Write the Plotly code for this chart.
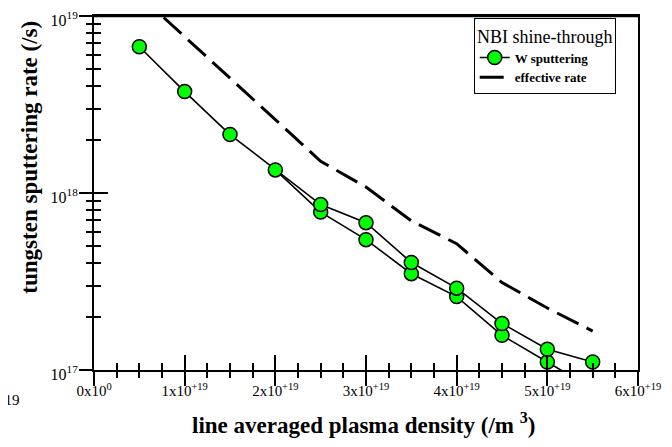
import plotly.graph_objects as go

# ---- data ----
x_upper = [0.5e19, 1.0e19, 1.5e19, 2.0e19, 2.5e19, 3.0e19, 3.5e19, 4.0e19, 4.5e19, 5.0e19, 5.5e19]
y_upper = [6.7e18, 3.74e18, 2.14e18, 1.35e18, 8.6e17, 6.8e17, 4.05e17, 2.9e17, 1.83e17, 1.31e17, 1.11e17]

x_lower = [2.0e19, 2.5e19, 3.0e19, 3.5e19, 4.0e19, 4.5e19, 5.0e19, 5.5e19]
y_lower = [1.35e18, 7.8e17, 5.45e17, 3.5e17, 2.6e17, 1.57e17, 1.11e17, 7.8e16]

x_eff = [0.5e19, 1.0e19, 1.5e19, 2.0e19, 2.5e19, 3.0e19, 3.5e19, 4.0e19, 4.5e19, 5.0e19, 5.5e19]
y_eff = [1.31e19, 7.66e18, 4.46e18, 2.6e18, 1.51e18, 1.08e18, 6.96e17, 5.17e17, 3.12e17, 2.24e17, 1.66e17]

x_major = [0, 1e19, 2e19, 3e19, 4e19, 5e19, 6e19]
x_labels = ["0x10<sup>0</sup>", "1x10<sup>+19</sup>", "2x10<sup>+19</sup>", "3x10<sup>+19</sup>",
            "4x10<sup>+19</sup>", "5x10<sup>+19</sup>", "6x10<sup>+19</sup>"]
x_minor = [k * 2.5e18 for k in range(1, 24) if k % 4 != 0]

y_major = [1e17, 1e18, 1e19]
y_labels = ["10<sup>17</sup>", "10<sup>18</sup>", "10<sup>19</sup>"]
y_minor = [m * 1e17 for m in range(2, 10)] + [m * 1e18 for m in range(2, 10)]

SERIF = "Liberation Serif"
GREEN = "#00ff00"

fig = go.Figure()

fig.add_trace(go.Scatter(x=x_lower, y=y_lower, mode="lines",
                         line=dict(color="black", width=1.6), showlegend=False, hoverinfo="skip"))
fig.add_trace(go.Scatter(x=x_lower[1:], y=y_lower[1:], mode="markers",
                         marker=dict(color=GREEN, size=14, line=dict(color="black", width=1.5)),
                         showlegend=False))
fig.add_trace(go.Scatter(x=x_upper, y=y_upper, mode="lines+markers", name="<b>W sputtering</b>",
                         line=dict(color="black", width=1.6),
                         marker=dict(color=GREEN, size=14, line=dict(color="black", width=1.5))))
fig.add_trace(go.Scatter(x=x_eff, y=y_eff, mode="lines", name="<b>effective rate</b>",
                         line=dict(color="black", width=3, dash="24px,9px")))
fig.add_trace(go.Scatter(x=[None], y=[None], xaxis="x2", yaxis="y2", showlegend=False, hoverinfo="skip"))

tickfont_x = dict(family=SERIF, size=15, color="black")
tickfont_y = dict(family=SERIF, size=16, color="black")

# page body has an 8px margin: margins are reduced to compensate
fig.update_layout(
    width=672, height=447,
    margin=dict(l=86, r=42, t=8, b=85),
    paper_bgcolor="white", plot_bgcolor="white",
    xaxis=dict(range=[0, 6e19], tickmode="array", tickvals=x_major, ticktext=x_labels,
               ticks="inside", ticklen=15, tickwidth=2, tickcolor="black",
               minor=dict(tickmode="array", tickvals=x_minor, ticks="inside", ticklen=7,
                          tickwidth=2, tickcolor="black", showgrid=False),
               showline=True, linewidth=2, linecolor="black", mirror=True, automargin=False,
               showgrid=False, zeroline=False, tickfont=tickfont_x, ticklabelstandoff=6,
               ticklabeloverflow="allow"),
    xaxis2=dict(range=[0, 6e19], overlaying="x", anchor="y", side="bottom", automargin=False,
                tickmode="array", tickvals=x_major, showticklabels=False,
                ticks="outside", ticklen=15, tickwidth=2, tickcolor="black",
                minor=dict(tickmode="array", tickvals=x_minor, ticks="outside", ticklen=7,
                           tickwidth=2, tickcolor="black", showgrid=False),
                showline=False, showgrid=False, zeroline=False),
    yaxis=dict(type="log", range=[17, 19], tickmode="array", tickvals=y_major, ticktext=y_labels,
               ticks="inside", ticklen=14, tickwidth=2, tickcolor="black",
               minor=dict(tickmode="array", tickvals=y_minor, ticks="inside", ticklen=7,
                          tickwidth=2, tickcolor="black", showgrid=False),
               showline=True, linewidth=2, linecolor="black", mirror=True, automargin=False,
               showgrid=False, zeroline=False, tickfont=tickfont_y, ticklabelstandoff=11,
               ticklabelshift=4, ticklabeloverflow="allow"),
    yaxis2=dict(type="log", range=[17, 19], overlaying="y", anchor="x", side="left", automargin=False,
                tickmode="array", tickvals=y_major, showticklabels=False,
                ticks="outside", ticklen=14, tickwidth=2, tickcolor="black",
                minor=dict(tickmode="array", tickvals=y_minor, ticks="outside", ticklen=7,
                           tickwidth=2, tickcolor="black", showgrid=False),
                showline=False, showgrid=False, zeroline=False),
    legend=dict(x=0.698, y=0.994, xanchor="left", yanchor="top",
                bgcolor="white", bordercolor="black", borderwidth=1,
                font=dict(family=SERIF, size=13, color="black"),
                title=dict(text="NBI shine-through", side="top center",
                           font=dict(family=SERIF, size=18, color="black")),
                tracegroupgap=0, itemwidth=30, entrywidth=108, entrywidthmode="pixels"),
    showlegend=True,
    shapes=[dict(type="line", xref="paper", yref="paper", x0=0, x1=1, y0=1, y1=1,
                 line=dict(color="black", width=2.5), layer="above")],
    annotations=[
        dict(text="<b>tungsten sputtering rate (/s)</b>", textangle=-90,
             xref="paper", yref="paper", x=-0.1176, y=0.6, xanchor="center", yanchor="middle",
             showarrow=False, font=dict(family=SERIF, size=23, color="black")),
        dict(text="<b>line averaged plasma density (/m <sup>3</sup>)</b>",
             xref="paper", yref="paper", x=0.4945, y=-0.15, xanchor="center", yanchor="middle",
             showarrow=False, font=dict(family=SERIF, size=23, color="black")),
        dict(text="+19", xref="paper", yref="paper", x=(21 - 94) / 544, y=(370 - 400) / 356,
             xanchor="right", yanchor="middle", showarrow=False,
             font=dict(family=SERIF, size=15, color="black")),
    ],
)

fig.write_html("out.html")
